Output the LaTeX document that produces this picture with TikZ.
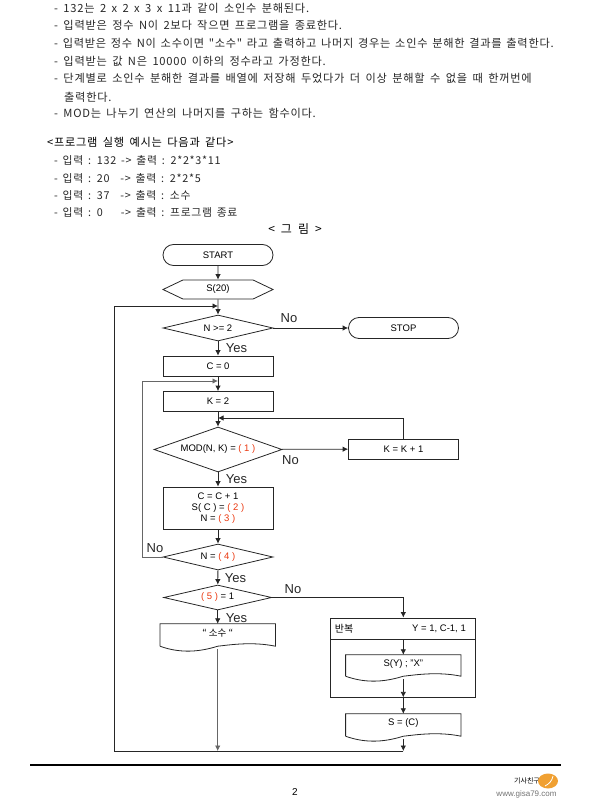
\documentclass[tikz,border=0pt]{standalone}
\usepackage{fontspec}
\setmainfont{Liberation Sans}
\newfontfamily\kr{Noto Sans CJK KR}
\newfontfamily\krtxt[LetterSpace=6.5]{Noto Sans CJK KR}
\newcommand{\txtfont}[2]{\krtxt\fontsize{#1}{13}\selectfont\spaceskip #2pt\relax}
\usetikzlibrary{arrows.meta,calc,shapes.geometric,shapes.misc,shapes.symbols}
\definecolor{blank}{RGB}{234,56,16}
\definecolor{logoorange}{RGB}{240,160,50}
\tikzset{
  flow/.style={draw=black!85,line width=0.8pt,inner sep=0pt,font=\fontsize{9.5}{11}\selectfont,align=center},
  terminal/.style={flow,rounded rectangle,minimum width=110pt,minimum height=21pt},
  process/.style={flow,rectangle,minimum width=110pt,minimum height=20pt},
  decision/.style={flow,diamond,aspect=4.2,minimum width=110pt,minimum height=26pt},
  hexa/.style={flow,signal,signal to=east and west,signal pointer angle=51,minimum width=110pt,minimum height=19pt},
  doctext/.style={inner sep=0pt,font=\fontsize{9.5}{11}\selectfont,align=center},
  line/.style={draw=black!85,line width=0.8pt},
  go/.style={line,-{Latex[length=5.5pt,width=5.5pt]}},
  tag/.style={inner sep=0pt,font=\fontsize{13}{15}\selectfont,text=black!85},
  body/.style={inner sep=0pt,anchor=west,text=black!85,font=\txtfont{11.2}{5.4}},
  sample/.style={body,font=\txtfont{10.8}{4.8}}
}
% wavy lower edge of an output box
\newcommand{\outbox}[1]{
  \draw[line] (#1.south west) -- (#1.north west) -- (#1.north east) -- (#1.south east)
    .. controls ($(#1.south east)+(-24,-5)$) and ($(#1.south)+(10,-1)$) .. (#1.south)
    .. controls ($(#1.south)+(-16,5)$) and ($(#1.south west)+(22,8)$) .. (#1.south west);
  \coordinate (#1-b) at ($(#1.south)+(0,3)$);
}
\begin{document}
\begin{tikzpicture}[x=1pt,y=-1pt]
  \useasboundingbox (0,0) rectangle (612,802);
  % text above the chart
  \node[body] (l1) at (54,8) {- 132는 2 x 2 x 3 x 11과 같이 소인수 분해된다.};
  \node[body] (l2) at (54,25) {- 입력받은 정수 N이 2보다 작으면 프로그램을 종료한다.};
  \node[body,font=\txtfont{11.2}{4.7}] (l3) at (54,43) {- 입력받은 정수 N이 소수이면 "소수" 라고 출력하고 나머지 경우는 소인수 분해한 결과를 출력한다.};
  \node[body] (l4) at (54,61) {- 입력받는 값 N은 10000 이하의 정수라고 가정한다.};
  \node[body] (l5) at (54,78) {- 단계별로 소인수 분해한 결과를 배열에 저장해 두었다가 더 이상 분해할 수 없을 때 한꺼번에};
  \node[body] (l6) at (64,97) {출력한다.};
  \node[body] (l7) at (54,113) {- MOD는 나누기 연산의 나머지를 구하는 함수이다.};
  \node[body,text=black] (ex) at (47,142) {<프로그램 실행 예시는 다음과 같다>};
  \node[sample] (ex1) at (54,160) {- 입력 : 132 -> 출력 : 2*2*3*11};
  \node[sample] (ex2) at (54,178) {- 입력 : 20 \hspace{6pt}-> 출력 : 2*2*5};
  \node[sample] (ex3) at (54,195) {- 입력 : 37 \hspace{6pt}-> 출력 : 소수};
  \node[sample] (ex4) at (54,212) {- 입력 : 0 \hspace{13pt}-> 출력 : 프로그램 종료};
  \node[body,anchor=center,text=black,font=\txtfont{12}{6}] (fig) at (295,229) {< 그 림 >};
  % chart boxes
  \node[terminal] (start) at (218,255) {START};
  \node[hexa] (s20) at (218,289.5) {S(20)};
  \node[decision] (n2) at (218,328) {N >= 2};
  \node[terminal] (stop) at (403.5,328) {STOP};
  \node[process] (c0) at (218,366) {C = 0};
  \node[process] (k2) at (218,401.5) {K = 2};
  \node[decision,minimum width=128pt,minimum height=45pt,aspect=2.8] (mod) at (218,449.5) {MOD(N, K) = \textcolor{blank}{( 1 )}};
  \node[process] (kinc) at (403.5,449) {K = K + 1};
  \node[process,minimum height=42pt] (cbox) at (218,508) {C = C + 1\\S( C ) = \textcolor{blank}{( 2 )}\\N = \textcolor{blank}{( 3 )}};
  \node[decision] (n4) at (218,557) {N = \textcolor{blank}{( 4 )}};
  \node[decision,minimum width=108pt,minimum height=25pt] (n5) at (217.7,597.5) {\textcolor{blank}{( 5 )} = 1};
  \node[doctext,minimum width=115pt,minimum height=22pt] (prime) at (217.7,635) {\raisebox{5pt}{\kr “ 소수 “}};
  \outbox{prime}
  \node[process,minimum width=145pt,minimum height=21pt] (loophead) at (403.3,628.5) {};
  \node[process,minimum width=145pt,minimum height=58pt] (loopbody) at (403.3,668) {};
  \node[inner sep=0pt,font=\kr\fontsize{10}{12}\selectfont] (rep) at (344,629) {반복};
  \node[inner sep=0pt,font=\fontsize{9.5}{11}\selectfont] (range) at (439,629) {Y = 1, C-1, 1};
  \node[doctext,minimum width=115pt,minimum height=21pt] (sy) at (403.3,665.5) {\raisebox{5pt}{S(Y) ; "X"}};
  \outbox{sy}
  \node[doctext,minimum width=115pt,minimum height=22pt] (sc) at (403.3,725) {\raisebox{5pt}{S = (C)}};
  \outbox{sc}
  \coordinate (back1) at (218,306);
  \coordinate (back2) at (218,381);
  \coordinate (back3) at (218,418);
  \coordinate (low1) at (217.7,751);
  \coordinate (low2) at (403.3,751);
  \coordinate (left1) at (114.5,751);
  \coordinate (left2) at (114.5,306);
  \coordinate (left3) at (142,557);
  \coordinate (left4) at (142,381);
  % connectors
  \begin{scope}
    \draw[go] (start) to (s20);
    \draw[go] (s20) to (n2);
    \draw[go] (n2) to (stop);
    \draw[go] (n2) to (c0);
    \draw[go] (c0) to (k2);
    \draw[go] (k2) to (mod);
    \draw[go] (mod) to (kinc);
    \draw[go] (kinc.north) |- (back3);
    \draw[go] (mod) to (cbox);
    \draw[go] (cbox) to (n4);
    \draw[go] (n4) to (n5);
    \draw[go] (n5.south) to (prime.north);
    \draw[go] (n5.east) -| (loophead.north);
    \draw[go] (loophead.south) to (sy.north);
    \draw[go] (sy-b) to (loopbody.south);
    \draw[go] (loopbody.south) to (sc.north);
    \draw[go,draw=black!60] (prime-b) to (low1);
    \draw[go] (sc-b) to (low2);
    \draw[go] (low2) -- (left1) -- (left2) -- (back1);
    \draw[go,draw=black!60] (n4.west) -- (left3) -- (left4) -- (back2);
  \end{scope}
  % branch labels
  \node[tag] (no1) at (289,318) {No};
  \node[tag] (yes1) at (236.5,348) {Yes};
  \node[tag] (no2) at (290.5,460) {No};
  \node[tag] (yes2) at (236.5,479) {Yes};
  \node[tag] (no3) at (155,548) {No};
  \node[tag] (yes3) at (235.5,578) {Yes};
  \node[tag] (no4) at (293,589) {No};
  \node[tag] (yes4) at (236.5,618) {Yes};
  % foot of the page
  \coordinate (foot1) at (30,765);
  \coordinate (foot2) at (561,765);
  \draw[line width=1.6pt] (foot1) -- (foot2);
  \node[inner sep=0pt,font=\fontsize{10}{12}\selectfont] (page) at (295,792) {2};
  \node[inner sep=0pt,font=\kr\fontsize{7}{8}\selectfont] (logotext) at (527,781) {기사친구};
  \fill[logoorange] (548,781) ellipse (10 and 7.5);
  \draw[white,line width=0.8pt] (545,786) .. controls (549,784) and (552,781) .. (553,776);
  \node[inner sep=0pt,text=black!55,font=\fontsize{8}{9}\selectfont] (web) at (526.5,794) {www.gisa79.com};
\end{tikzpicture}
\end{document}
